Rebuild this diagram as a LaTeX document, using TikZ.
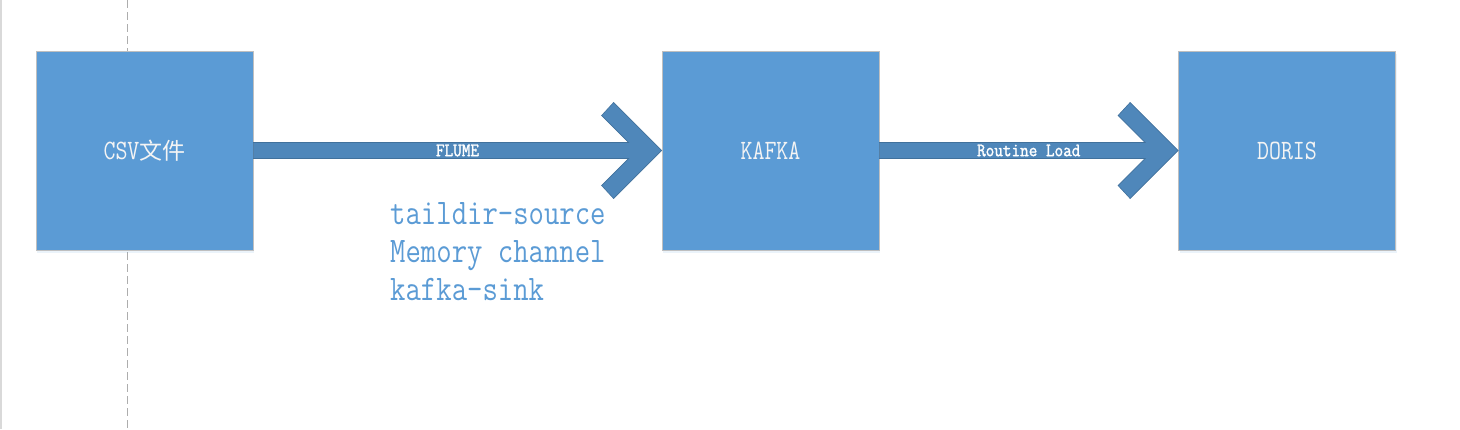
\documentclass[tikz,border=0pt]{standalone}
\usepackage{fontspec}
\usetikzlibrary{calc,shadows}
\newfontfamily\monofont{Latin Modern Mono}[FakeStretch=0.83]
\newfontfamily\lblfont{Latin Modern Mono}[FakeBold=1.6,FakeStretch=0.88]
\newfontfamily\cjk{Noto Sans CJK SC}
\definecolor{boxblue}{HTML}{5B9BD5}
\definecolor{arrowblue}{HTML}{4F87BA}
\definecolor{arrowedge}{HTML}{41719C}
\definecolor{boxedge}{HTML}{BFBFBF}
\definecolor{boxtext}{HTML}{F4F4F4}
\tikzset{
  stagebox/.style={draw=boxedge, line width=0.8pt, fill=boxblue, minimum width=217pt, minimum height=199pt,
    inner sep=0pt, text=boxtext, font=\fontsize{28}{32}\selectfont\monofont,
    drop shadow={shadow xshift=1pt, shadow yshift=-3pt, opacity=0.12, fill=boxblue}},
  flowarrow/.style={fill=arrowblue, draw=arrowedge, line width=0.6pt, line join=miter},
  flowlabel/.style={text=white, font=\fontsize{19}{21}\selectfont\lblfont, inner sep=0pt},
  notetext/.style={text=boxblue, font=\fontsize{36}{38}\selectfont\monofont, align=left, inner sep=0pt, anchor=north west},
}
\begin{document}
\begin{tikzpicture}[x=1pt,y=-1pt]
\useasboundingbox (0,0) rectangle (1460,429);
% page guides
\draw[line width=1.5pt, color=black!15] (1,0) -- (1,429);
\draw[color=black!32, line width=0.9pt, dash pattern=on 8pt off 4pt] (127,0) -- (127,429);
% boxes
\node[stagebox] (csv) at (144.5,150.5) {CSV{\fontsize{23}{27}\selectfont\cjk 文件}};
\node[stagebox] (kafka) at (770.5,150.5) {KAFKA};
\node[stagebox] (doris) at (1287,150.5) {DORIS};
% arrow 1
\filldraw[flowarrow]
  ($(csv.east)+(0,-8)$) -- ($(kafka.west)+(-33,-8)$) -- ($(kafka.west)+(-60,-35)$) --
  ($(kafka.west)+(-48,-48)$) -- (kafka.west) -- ($(kafka.west)+(-48,48)$) --
  ($(kafka.west)+(-60,35)$) -- ($(kafka.west)+(-33,8)$) -- ($(csv.east)+(0,8)$) -- cycle;
\node[flowlabel] (l1) at ($(csv.east)!0.5!(kafka.west)$) {FLUME};
% arrow 2
\filldraw[flowarrow]
  ($(kafka.east)+(0,-8)$) -- ($(doris.west)+(-33,-8)$) -- ($(doris.west)+(-60,-35)$) --
  ($(doris.west)+(-48,-48)$) -- (doris.west) -- ($(doris.west)+(-48,48)$) --
  ($(doris.west)+(-60,35)$) -- ($(doris.west)+(-33,8)$) -- ($(kafka.east)+(0,8)$) -- cycle;
\node[flowlabel] (l2) at ($(kafka.east)!0.5!(doris.west)$) {Routine Load};
% note
\node[notetext] (note) at (390,202) {taildir-source\\Memory channel\\kafka-sink};
\end{tikzpicture}
\end{document}
